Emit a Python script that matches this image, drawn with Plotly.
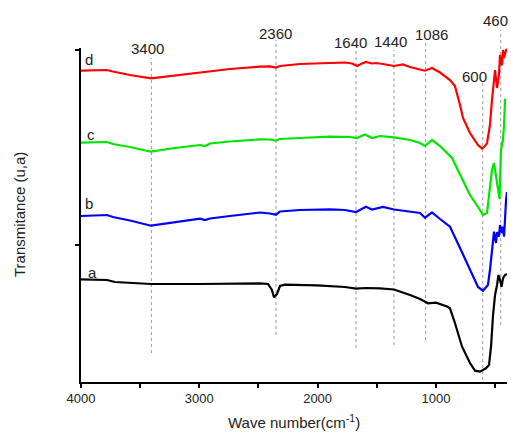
import plotly.graph_objects as go

# ---- data (wavenumber in cm-1, transmittance in arbitrary units) ----
wn_a = [4000, 3780, 3713, 3586, 3408, 2994, 2741, 2487, 2419, 2386, 2369, 2343, 2318, 2276, 2005,
        1768, 1675, 1591, 1473, 1354, 1219, 1134, 1067, 999, 906, 881, 839, 779, 712, 669, 627,
        577, 551, 534, 517, 500, 483, 471, 458, 445, 433, 416, 399]
t_a = [102.7, 102, 100, 99, 98, 98, 98.3, 98.7, 98, 92, 84.7, 88, 96, 97.3, 96.7,
       95, 93.3, 94, 93.7, 92.5, 87, 83, 78.7, 79.3, 75.5, 73.7, 59, 35.3, 19, 11.3, 10.3,
       13.7, 17, 35.3, 67, 87, 97, 107, 102, 95.3, 103.7, 107, 108]

wn_b = [4000, 3839, 3780, 3730, 3586, 3408, 3205, 2994, 2952, 2910, 2741, 2487, 2402, 2352, 2318,
        2149, 1895, 1768, 1675, 1591, 1540, 1447, 1354, 1219, 1134, 1092, 1033, 965, 881, 796,
        712, 644, 602, 560, 543, 526, 509, 492, 483, 467, 458, 441, 433, 424, 416, 407, 399]
t_b = [166, 166.5, 167, 165, 161.5, 156.3, 160, 163.3, 162, 163.5, 166, 169.5, 168.5, 167.3, 170.5,
       172, 172.7, 172, 170, 175.3, 172.5, 175, 172.5, 170.5, 169, 164.3, 169.7, 163, 155.3, 134,
       112, 95, 91.3, 97, 112, 132, 150.3, 139, 150, 145.3, 157, 149, 155.3, 145.3, 167, 182, 190]

wn_c = [4000, 3839, 3780, 3730, 3586, 3408, 3205, 2994, 2952, 2910, 2741, 2487, 2402, 2352, 2318,
        2149, 1895, 1726, 1667, 1599, 1540, 1473, 1354, 1219, 1134, 1092, 1033, 999, 965, 864,
        796, 712, 627, 602, 568, 543, 526, 509, 492, 475, 462, 450, 433, 424, 416, 407]
t_c = [239.3, 239.5, 240, 238, 235, 230.3, 234, 237, 236, 238.5, 240.5, 242.7, 242.5, 241.5, 243,
       244, 245.3, 245, 244, 247.5, 244, 246, 244.7, 242, 239, 236, 242, 239, 236, 224,
       207, 187, 172, 167, 169, 199, 212, 219, 207, 192, 183, 232, 242, 257, 282, 283]

wn_d = [4000, 3839, 3780, 3730, 3586, 3408, 3205, 2994, 2910, 2741, 2487, 2402, 2352, 2318, 2149,
        1895, 1768, 1709, 1667, 1625, 1591, 1540, 1506, 1447, 1354, 1278, 1219, 1134, 1092, 1033,
        999, 965, 881, 839, 796, 771, 712, 644, 610, 585, 568, 543, 526, 509, 500, 483,
        471, 467, 458, 450, 441, 433, 424, 416, 407, 399]
t_d = [311.3, 311.5, 312, 310.5, 307, 303.7, 306.5, 309.5, 311, 313, 315.3, 315.7, 314.5, 316, 318,
       319.5, 319.5, 318.5, 316, 318.5, 320, 318.5, 319, 318, 316, 317.5, 315, 312.5, 311.3, 314,
       312, 309.5, 302, 296, 277, 264, 249, 237, 233.5, 236, 239, 257, 282, 300, 312, 294,
       304, 307, 327, 319, 317, 332, 324, 330, 332, 333]

series_names = ["a", "b", "c", "d"]
peak_labels = ["3400", "2360", "1640", "1440", "1086", "600", "460"]
peak_wn = [3405, 2352, 1675, 1354, 1087, 604, 452]

# ---- styling / layout ----
colors = ["#000000", "#0000ff", "#00e600", "#ff0000"]
FONT = "Arial, Liberation Sans, sans-serif"
YMAX = 334

fig = go.Figure()
for name, x, y, c in zip(series_names, [wn_a, wn_b, wn_c, wn_d], [t_a, t_b, t_c, t_d], colors):
    fig.add_trace(go.Scatter(x=x, y=y, mode="lines", name=name,
                             line=dict(color=c, width=2.2), showlegend=False))

# letter labels next to each curve
letter_pos = {"a": (3899, 110), "b": (3932, 179), "c": (3915, 248), "d": (3932, 322)}
for n in series_names:
    lx, ly = letter_pos[n]
    fig.add_annotation(x=lx, y=ly / YMAX, text=n, showarrow=False, xref="x", yref="paper",
                       xanchor="center", yanchor="middle",
                       font=dict(family=FONT, size=15, color="#222"))

# dotted peak lines and labels
line_top = [324, 342, 332, 332, 339, 299, 352]
line_bot = [29, 47, 34, 37, 42, 2, 57]
label_y = [334, 349, 339, 341, 347, 305, 362]
label_dx = [-4, 0, -6, -4, 6, -8, -5]
for lab, w, t0, b0, ly, dx in zip(peak_labels, peak_wn, line_top, line_bot, label_y, label_dx):
    fig.add_shape(type="line", xref="x", yref="paper", x0=w, x1=w,
                  y0=b0 / YMAX, y1=t0 / YMAX,
                  line=dict(color="#9a9a9a", width=1, dash="dot"), layer="below")
    fig.add_annotation(x=w, y=ly / YMAX, xref="x", yref="paper", text=lab, showarrow=False,
                       xanchor="center", yanchor="middle",
                       xshift=dx, font=dict(family=FONT, size=15, color="#222"))

fig.add_annotation(x=-0.1455, y=0.5, xref="paper", yref="paper", text="Transmitance (u,a)",
                   xanchor="center", yanchor="middle",
                   textangle=-90, showarrow=False, font=dict(family=FONT, size=15, color="#222"))
fig.add_annotation(x=0.5, y=-0.119, xref="paper", yref="paper", xanchor="center", yanchor="middle",
                   text="Wave number(cm<sup>-1</sup>)", showarrow=False,
                   font=dict(family=FONT, size=15, color="#222"))

fig.update_layout(
    width=511, height=432,
    margin=dict(l=81, r=4, t=48, b=50),
    paper_bgcolor="white", plot_bgcolor="white",
    font=dict(family=FONT, color="#222"),
    xaxis=dict(range=[4000, 399], showgrid=False, zeroline=False,
               showline=True, linecolor="black", linewidth=1.5,
               ticks="outside", ticklen=4, tickwidth=1.5, tickcolor="black",
               tickmode="array", tickvals=[4000, 3000, 2000, 1000],
               tickfont=dict(family=FONT, size=13, color="#222"),
               minor=dict(tickmode="array", tickvals=[3500, 2500, 1500, 500],
                          ticks="outside", ticklen=4, tickwidth=1.5, tickcolor="black")),
    yaxis=dict(range=[0, YMAX], showgrid=False, zeroline=False,
               showline=True, linecolor="black", linewidth=1.5,
               ticks="outside", ticklen=4, tickwidth=1.5, tickcolor="black",
               tickmode="array", tickvals=[137, 332], showticklabels=False),
)

fig.write_html("out.html", config={"displayModeBar": False},
               post_script="document.body.style.margin='0';document.body.style.overflow='hidden';")
